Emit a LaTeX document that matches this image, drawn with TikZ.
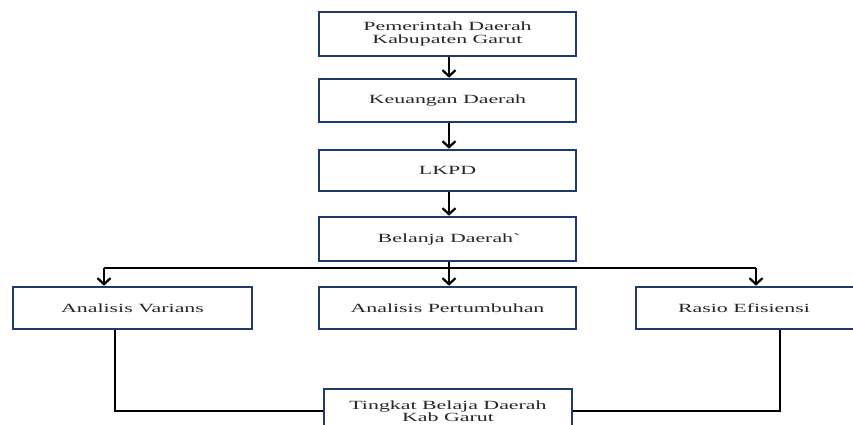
\documentclass[tikz,border=0pt]{standalone}
\usepackage{fontspec}
\setmainfont{Liberation Serif}[FakeStretch=1.75]
\usetikzlibrary{arrows.meta}
\definecolor{boxblue}{HTML}{1F3A6E}
\tikzset{
  boxtext/.style={font=\fontsize{12.5}{12.5}\selectfont, text=black!85},
  box/.style={draw=boxblue, line width=2.6pt, fill=white, minimum height=#1, inner sep=0pt,
    align=center, boxtext},
  box/.default=43pt,
  conn/.style={line width=2.2pt, black},
  arr/.style={conn, -{Straight Barb[length=6pt,width=13pt,line width=2.2pt]}},
}
\begin{document}
\begin{tikzpicture}[x=1pt,y=-1pt]
\useasboundingbox (0,0) rectangle (853,425);
\clip (0,0) rectangle (853,425);
% column nodes
\node[box=44pt, minimum width=257pt] (b1) at (447.5,34) {Pemerintah Daerah\\Kabupaten Garut};
\node[box=43pt, minimum width=257pt] (b2) at (447.5,100.5) {Keuangan Daerah};
\node[box=41pt, minimum width=257pt] (b3) at (447.5,170.5) {LKPD};
\node[box=44pt, minimum width=257pt] (b4) at (447.5,239) {Belanja Daerah\textasciigrave};
% second row
\node[box=42pt, minimum width=239pt] (av) at (132.5,308) {Analisis Varians};
\node[box=42pt, minimum width=257pt] (ap) at (447.5,308) {Analisis Pertumbuhan};
\node[box=42pt, minimum width=250pt] (re) at (761,308) {};
\node[boxtext] (ret) at (744,308) {Rasio Efisiensi};
% bottom
\node[box=44pt, minimum width=248pt] (tb) at (448,411) {Tingkat Belaja Daerah\\Kab Garut};
% vertical arrows
\draw[arr] (b1.south -| 449,0) -- (b2.north -| 449,0);
\draw[arr] (b2.south -| 449,0) -- (b3.north -| 449,0);
\draw[arr] (b3.south -| 449,0) -- (b4.north -| 449,0);
\draw[arr] (b4.south -| 449,0) -- (ap.north -| 449,0);
% branching
\coordinate (jl) at (104,268);
\coordinate (jr) at (756,268);
\draw[conn] (jl) -- (jr);
\draw[arr] (jl) -- (jl |- av.north);
\draw[arr] (jr) -- (jr |- re.north);
% to bottom box
\coordinate (dl) at (115,0);
\coordinate (dr) at (780,0);
\draw[conn] (dl |- av.south) |- (tb.west);
\draw[conn] (dr |- re.south) |- (tb.east);
\end{tikzpicture}
\end{document}
